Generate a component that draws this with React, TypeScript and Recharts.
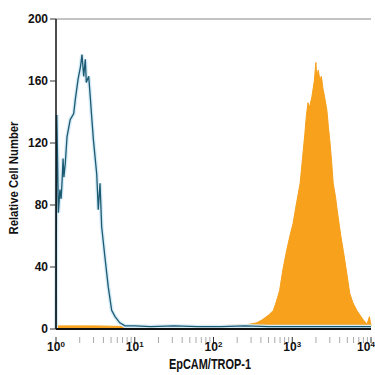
import { ComposedChart, Area, Line, XAxis, YAxis, ReferenceLine } from 'recharts';

const controlX = [0, 0.01, 0.02, 0.03, 0.05, 0.065, 0.076, 0.09, 0.1, 0.118, 0.14, 0.18, 0.225, 0.245, 0.28, 0.31, 0.33, 0.352, 0.372, 0.385, 0.415, 0.435, 0.45, 0.475, 0.517, 0.537, 0.559, 0.58, 0.622, 0.664, 0.707, 0.75, 0.81, 0.876, 1.0, 1.2, 1.5, 1.8, 2.1, 2.4, 2.7, 3.0, 3.3, 3.6, 3.9, 4.0];
const controlY = [0, 138, 110, 75, 90, 84, 94, 110, 98, 107, 124, 135, 139, 148, 161, 169, 177, 163, 174, 159, 163, 150, 139, 122, 100, 77, 94, 66, 46, 27, 12, 8, 4, 2, 2, 1.5, 2, 1.5, 1.5, 2, 1.5, 1.5, 1.5, 1.5, 1.5, 1.5];

const epcamX = [0, 0.5, 1.0, 1.5, 2.0, 2.3, 2.45, 2.55, 2.62, 2.7, 2.76, 2.8, 2.84, 2.88, 2.93, 2.97, 3.01, 3.05, 3.1, 3.13, 3.16, 3.18, 3.2, 3.22, 3.25, 3.28, 3.3, 3.31, 3.33, 3.35, 3.37, 3.39, 3.41, 3.44, 3.46, 3.48, 3.5, 3.52, 3.55, 3.57, 3.6, 3.62, 3.65, 3.68, 3.71, 3.73, 3.77, 3.82, 3.86, 3.9, 3.95, 3.98, 4.0];
const epcamY = [2, 2, 1.5, 1.5, 2, 2.5, 3, 4, 6, 9, 12, 18, 25, 38, 51, 60, 68, 80, 94, 110, 126, 138, 146, 143, 150, 160, 172, 163, 167, 161, 163, 155, 150, 141, 130, 120, 108, 94, 85, 77, 66, 59, 50, 40, 30, 23, 17, 12, 9, 6, 3, 8, 2];

const yTicks = [0, 40, 80, 120, 160, 200];
const decades = [0, 1, 2, 3, 4];
const minorMult = [2, 3, 4, 5, 6, 7, 8, 9];

const controlData = controlX.map((x, i) => ({ x, v: controlY[i] }));
const epcamData = epcamX.map((x, i) => ({ x, v: epcamY[i] }));
const xTicks: number[] = [];
decades.forEach((d) => {
  xTicks.push(d);
  if (d < 4) minorMult.forEach((m) => xTicks.push(d + Math.log10(m)));
});

const font = '"Liberation Sans Narrow", "Liberation Sans", Arial, sans-serif';

function XTick(props: any) {
  const { x, y, payload } = props;
  const v = payload.value;
  const major = decades.some((d) => Math.abs(d - v) < 1e-6);
  // last label would hit the edge, nudge it in
  const lx = v > 3.99 ? x - 5 : x;
  return (
    <g>
      <line x1={x} x2={x} y1={y} y2={y + 6} stroke={major ? '#333' : '#aaa'} strokeWidth={1} />
      {major && (
        <text x={lx} y={y + 14} textAnchor="middle" fontFamily={font} fontWeight="bold" fontSize={12} fill="#111">
          10<tspan dy={-4} fontSize={8}>{Math.round(v)}</tspan>
        </text>
      )}
    </g>
  );
}

export default function App() {
  return (
    <div style={{ position: 'fixed', left: 0, top: 0, background: '#fff' }}>
      <ComposedChart width={375} height={375} margin={{ top: 19, right: 4, bottom: 0, left: 0 }}>
        <XAxis
          dataKey="x"
          type="number"
          domain={[0, 4]}
          ticks={xTicks}
          interval={0}
          allowDuplicatedCategory={false}
          axisLine={{ stroke: '#111', strokeWidth: 2 }}
          tickLine={false}
          tick={<XTick />}
          height={46}
        />
        <YAxis
          type="number"
          domain={[0, 200]}
          ticks={yTicks}
          width={56}
          axisLine={{ stroke: '#111', strokeWidth: 1.5 }}
          tickLine={{ stroke: '#333' }}
          tickSize={6}
          tick={{ fontFamily: font, fontWeight: 'bold', fontSize: 12, fill: '#111' }}
        />
        <ReferenceLine y={200} stroke="#888" strokeWidth={1} ifOverflow="extendDomain" />
        <Area
          data={epcamData}
          dataKey="v"
          type="linear"
          stroke="#f6a01c"
          strokeWidth={1}
          fill="#f7a11d"
          fillOpacity={1}
          isAnimationActive={false}
        />
        <Line
          data={controlData}
          dataKey="v"
          type="linear"
          stroke="#d6ecf7"
          strokeWidth={4}
          dot={false}
          isAnimationActive={false}
        />
        <Line
          data={controlData}
          dataKey="v"
          type="linear"
          stroke="#1c5a72"
          strokeWidth={1.3}
          dot={false}
          isAnimationActive={false}
        />
        <text x={15} y={178} transform="rotate(-90 15 178)" textAnchor="middle" dominantBaseline="middle" fontFamily={font} fontWeight="bold" fontSize={13} fill="#111" textLength={113} lengthAdjust="spacingAndGlyphs">
          Relative Cell Number
        </text>
        <text x={210} y={369} textAnchor="middle" fontFamily={font} fontWeight="bold" fontSize={14} fill="#111" textLength={82} lengthAdjust="spacingAndGlyphs">
          EpCAM/TROP-1
        </text>
      </ComposedChart>
    </div>
  );
}
